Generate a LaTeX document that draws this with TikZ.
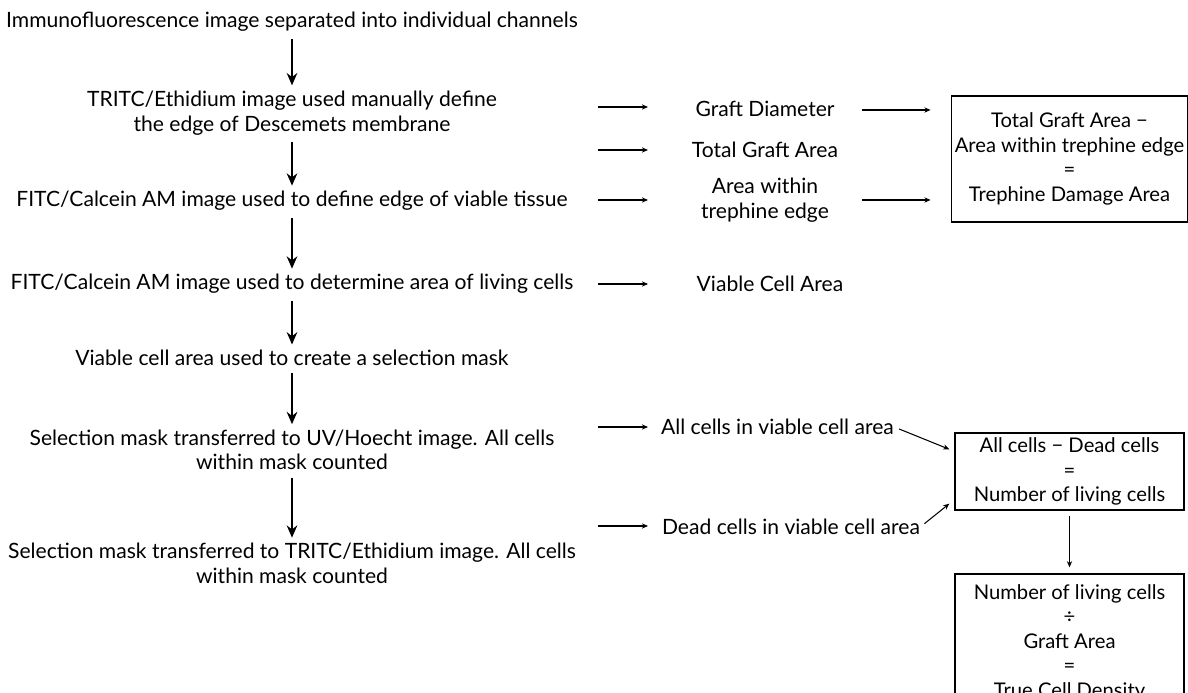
\documentclass[tikz,border=0pt]{standalone}
\usepackage{fontspec}
\setmainfont{Lato}
\usetikzlibrary{arrows.meta}
\tikzset{
	calcbox/.style={draw,line width=0.8pt,minimum width=4.58cm,inner xsep=2pt,font=\fontsize{11.5}{14}\selectfont},
	bigarrow/.style={-{Stealth[length=7pt,width=6pt]},line width=1.2pt,shorten <=4pt,shorten >=3pt},
	smallarrow/.style={-{Stealth[length=3.5pt,width=3pt]},line width=0.6pt}
}
\begin{document}
\begin{tikzpicture}[every node/.style={font=\fontsize{12}{14}\selectfont,align=center,inner sep=0pt}]
	\useasboundingbox (0,0) rectangle (23.76,13.86);
	\clip (0,0) rectangle (23.76,13.86);
	% linke Spalte
	\node (split) at (5.84,13.42) {Immunofluorescence image separated into individual channels};
	\node (edgedm) at (5.84,11.6) {TRITC/Ethidium image used manually define\\the edge of Descemets membrane};
	\node (edgevt) at (5.84,9.84) {FITC/Calcein AM image used to define edge of viable tissue};
	\node (livearea) at (5.84,8.18) {FITC/Calcein AM image used to determine area of living cells};
	\node (selmask) at (5.84,6.7) {Viable cell area used to create a selection mask};
	\node (uvmask) at (5.84,4.86) {Selection mask transferred to UV/Hoecht image. All cells\\within mask counted};
	\node (etmask) at (5.84,2.59) {Selection mask transferred to TRITC/Ethidium image. All cells\\within mask counted};
	\draw[bigarrow] (split) -- (edgedm);
	\draw[bigarrow] (edgedm) -- (edgevt);
	\draw[bigarrow] (edgevt) -- (livearea);
	\draw[bigarrow] (livearea) -- (selmask);
	\draw[bigarrow] (selmask) -- (uvmask);
	\draw[bigarrow] (uvmask) -- (etmask);
	% kurze Pfeile zur Mitte
	\coordinate (o1) at (11.96,11.72);%Graft Diameter
	\coordinate (o2) at (11.96,10.86);%Total Graft Area
	\coordinate (o3) at (11.96,9.86);%Area within trephine edge
	\coordinate (o4) at (11.96,8.18);%Viable Cell Area
	\coordinate (o5) at (11.96,5.32);%All cells
	\coordinate (o6) at (11.96,3.34);%Dead cells
	\draw[smallarrow] (o1) -- ++(1,0);
	\draw[smallarrow] (o2) -- ++(1,0);
	\draw[smallarrow] (o3) -- ++(1,0);
	\draw[smallarrow] (o4) -- ++(1,0);
	\draw[smallarrow] (o5) -- ++(1,0);
	\draw[smallarrow] (o6) -- ++(1,0);
	% mittlere Spalte
	\node (gd) at (15.3,11.68) {Graft Diameter};
	\node (tga) at (15.3,10.86) {Total Graft Area};
	\node (awte) at (15.3,9.86) {Area within\\trephine edge};
	\node (vca) at (15.4,8.18) {Viable Cell Area};
	\node (allc) at (15.55,5.32) {All cells in viable cell area};
	\node (deadc) at (15.82,3.32) {Dead cells in viable cell area};
	% Ergebniskaesten
	\node[calcbox,minimum height=2.52cm] (damage) at (21.39,10.68) {Total Graft Area \symbol{"2212}\\Area within trephine edge\\=\\Trephine Damage Area};
	\node[calcbox,minimum height=1.54cm] (living) at (21.39,4.43) {All cells \symbol{"2212} Dead cells\\=\\Number of living cells};
	\node[calcbox,minimum height=2.74cm] (density) at (21.39,1.01) {Number of living cells\\÷\\Graft Area\\=\\True Cell Density};
	\coordinate (gdout) at (17.24,11.66);
	\coordinate (awout) at (17.24,9.86);
	\draw[smallarrow] (gdout) -- ([xshift=-0.4cm]gdout -| damage.west);
	\draw[smallarrow] (awout) -- ([xshift=-0.4cm]awout -| damage.west);
	\draw[smallarrow,shorten <=3pt] (allc.east) -- ([shift={(-0.1,-0.34)}]living.north west);
	\draw[smallarrow,shorten <=3pt] (deadc.east) -- ([shift={(-0.1,0.14)}]living.south west);
	\draw[smallarrow,shorten <=3pt,shorten >=3.4pt] (living) -- (density);
\end{tikzpicture}
\end{document}
